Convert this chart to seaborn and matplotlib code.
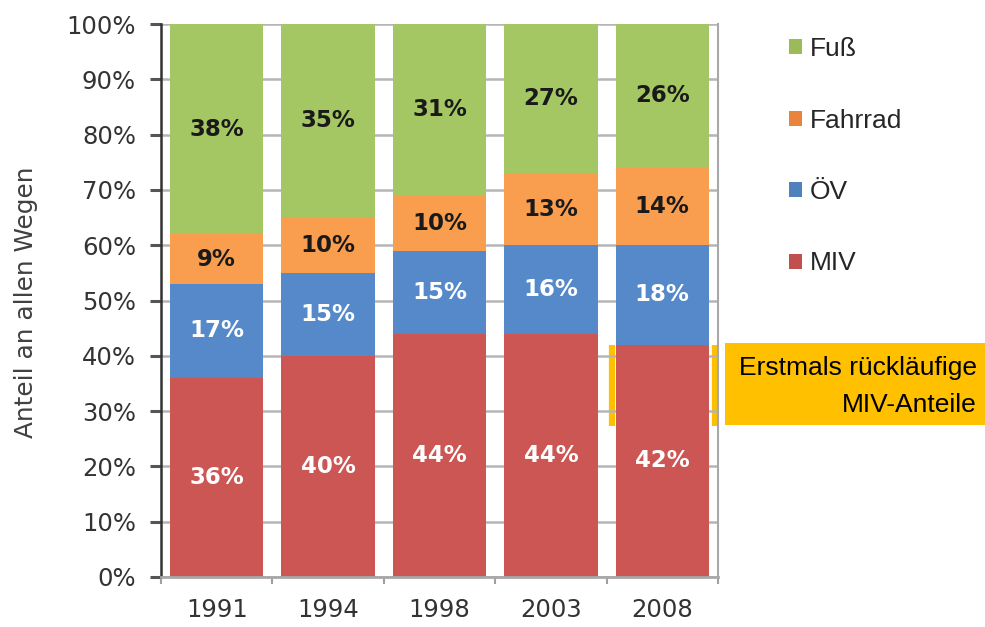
import matplotlib
matplotlib.use("Agg")
import matplotlib.pyplot as plt
import seaborn as sns
import pandas as pd
import numpy as np
from matplotlib.patches import Rectangle, Patch

# ---- data ----
years = ["1991", "1994", "1998", "2003", "2008"]
miv = [36, 40, 44, 44, 42]
oev = [17, 15, 15, 16, 18]
fahrrad = [9, 10, 10, 13, 14]
fuss = [38, 35, 31, 27, 26]
modes = ["MIV", "ÖV", "Fahrrad", "Fuß"]
yticks = [0, 10, 20, 30, 40, 50, 60, 70, 80, 90, 100]
ylabel = "Anteil an allen Wegen"
note_lines = ["Erstmals rückläufige", "MIV-Anteile"]

colors = {"MIV": "#CB5654", "ÖV": "#5589CA", "Fahrrad": "#F99D4F", "Fuß": "#A4C663"}
legend_colors = {"MIV": "#C0504D", "ÖV": "#4F81BD", "Fahrrad": "#E8843C", "Fuß": "#9BBB59"}
label_colors = {"MIV": "white", "ÖV": "white", "Fahrrad": "#1a1a1a", "Fuß": "#1a1a1a"}

sns.set_theme(style="white")
plt.rcParams["font.family"] = ["DejaVu Sans"]

W, H = 985, 627
fig = plt.figure(figsize=(W / 100, H / 100), dpi=100)
ax = fig.add_axes([161 / W, 50 / H, (718 - 161) / W, (577 - 24) / H])

series = {"MIV": miv, "ÖV": oev, "Fahrrad": fahrrad, "Fuß": fuss}
df = pd.DataFrame({"Jahr": years, **series})
cum = df[modes].cumsum(axis=1)

# draw cumulative bars from top to bottom so each segment shows
for m in reversed(modes):
    sns.barplot(x=df["Jahr"], y=cum[m], color=colors[m], saturation=1,
                width=0.84, edgecolor="none", linewidth=0, ax=ax, zorder=2)

# segment labels
for i in range(len(years)):
    bottom = 0
    for m in modes:
        v = series[m][i]
        ax.text(i, bottom + v / 2, f"{v}%", ha="center", va="center",
                fontsize=16.5, fontweight="bold", color=label_colors[m], zorder=3)
        bottom += v

ax.set_xlim(-0.5, len(years) - 0.5)
ax.set_ylim(0, 100)
ax.set_yticks(yticks)
ax.set_yticklabels([f"{t}%" for t in yticks])
ax.set_xlabel("")
ax.set_ylabel("")

ax.yaxis.grid(True, color="#B5B5B5", linewidth=1.8)
ax.xaxis.grid(False)
ax.set_axisbelow(True)

ax.tick_params(axis="y", left=True, length=8, width=2.2, color="#555555",
               pad=10, labelsize=17.5, labelcolor="#333333")
ax.tick_params(axis="x", which="major", bottom=True, length=0, pad=15,
               labelsize=17.5, labelcolor="#333333")
ax.set_xticks(np.arange(-0.5, len(years), 1.0), minor=True)
ax.tick_params(axis="x", which="minor", bottom=True, length=5, width=1.5,
               color="#A0A0A0")

ax.spines["left"].set_color("#333333")
ax.spines["left"].set_linewidth(1.8)
ax.spines["bottom"].set_color("#A8A8A8")
ax.spines["bottom"].set_linewidth(2)
ax.spines["right"].set_color("#A8A8A8")
ax.spines["right"].set_linewidth(1.5)
ax.spines["top"].set_visible(False)

# orange bracket around the 2008 MIV bar
ax.vlines([3.55, 4.475], 27.3, miv[-1], color="#FFC000", linewidth=4.5, zorder=0.3)

# y label
fig.text(26 / W, 1 - 302 / H, ylabel, rotation=90, ha="center", va="center",
         fontsize=17.8, color="#404040")

# legend
handles = [Patch(facecolor=legend_colors[m], edgecolor="none", label=m)
           for m in reversed(modes)]
fig.legend(handles=handles, loc="upper left", bbox_to_anchor=(789 / W, 1 - 37 / H),
           frameon=False, prop={"family": "Liberation Sans", "size": 19},
           handlelength=0.5, handleheight=0.5, handletextpad=0.3,
           labelspacing=1.8, borderpad=0, borderaxespad=0)

# annotation box
fig.patches.append(Rectangle((725 / W, 1 - 425 / H), 260 / W, 82 / H,
                             transform=fig.transFigure, facecolor="#FFC000",
                             edgecolor="none"))
fig.text(977 / W, 1 - 368 / H, note_lines[0], ha="right", va="center",
         fontsize=19, family="Liberation Sans", color="black")
fig.text(977 / W, 1 - 405 / H, note_lines[1], ha="right", va="center",
         fontsize=19, family="Liberation Sans", color="black")

fig.savefig("out.png", dpi=100)
